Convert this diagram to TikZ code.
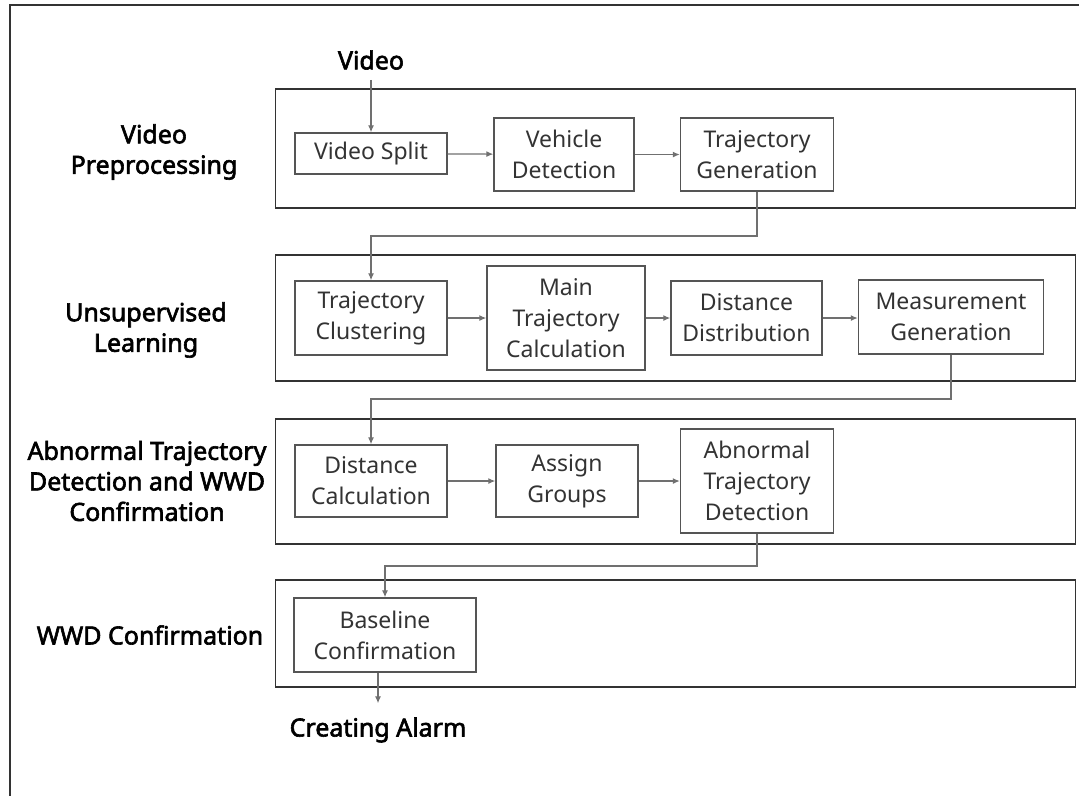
\documentclass[tikz,border=0pt]{standalone}
\usepackage{fontspec}
\setmainfont{Noto Sans}
\newfontfamily\labfont{Noto Sans}[FakeBold=2.4]
\usetikzlibrary{arrows.meta}
\definecolor{boxline}{HTML}{555555}
\definecolor{secline}{HTML}{333333}
\definecolor{conn}{HTML}{707070}
\definecolor{txt}{HTML}{333333}
\tikzset{
  stepbox/.style={draw=boxline, line width=1.4pt, inner sep=0pt, align=center,
    text=txt, font=\fontsize{23}{31}\selectfont},
  secbox/.style={draw=secline, line width=1.8pt},
  lab/.style={align=center, font=\labfont\fontsize{25}{30.5}\selectfont, text=black},
  conline/.style={draw=conn, line width=1.2pt, -{Latex[length=7pt,width=6pt]}},
}
\begin{document}
\begin{tikzpicture}[x=1pt,y=-1pt]
\useasboundingbox (0,0) rectangle (1079,796);
% outer frame (top and left)
\draw[secline, line width=2pt] (1079,5) -- (10,5) -- (10,796);
% section boxes
\draw[secbox] (275.5,89) rectangle (1075.5,208);
\draw[secbox] (275.5,255) rectangle (1075.5,381);
\draw[secbox] (275.5,419) rectangle (1075.5,544);
\draw[secbox] (275.5,580) rectangle (1075.5,687);
% section labels
\node[lab] (l1) at (154,152) {Video\\Preprocessing};
\node[lab] (l2) at (146,330) {Unsupervised\\Learning};
\node[lab] (l3) at (147,481) {Abnormal Trajectory\\Detection and WWD\\Confirmation};
\node[lab] (l4) at (150,635) {WWD Confirmation};
% input / output
\node[lab, inner sep=0pt] (video) at (371,60) {Video};
\node[lab, inner sep=0pt] (alarm) at (378,730) {Creating Alarm};
% step boxes
\node[stepbox, minimum width=152pt, minimum height=41pt] (vs) at (371,153.5) {Video Split};
\node[stepbox, minimum width=140pt, minimum height=73pt] (vd) at (564,154.5) {Vehicle\\Detection};
\node[stepbox, minimum width=153pt, minimum height=73pt] (tg) at (757,154.5) {Trajectory\\Generation};
\node[stepbox, minimum width=152pt, minimum height=74pt] (tc) at (371,318) {Trajectory\\Clustering};
\node[stepbox, minimum width=158pt, minimum height=104pt] (mtc) at (566,318) {Main\\Trajectory\\Calculation};
\node[stepbox, minimum width=151pt, minimum height=74pt] (dd) at (746.5,318) {Distance\\Distribution};
\node[stepbox, minimum width=185pt, minimum height=74pt] (mg) at (951,317) {Measurement\\Generation};
\node[stepbox, minimum width=152pt, minimum height=72pt] (dc) at (371,481) {Distance\\Calculation};
\node[stepbox, minimum width=142pt, minimum height=72pt] (ag) at (567,481) {Assign\\Groups};
\node[stepbox, minimum width=153pt, minimum height=104pt] (atd) at (757,481) {Abnormal\\Trajectory\\Detection};
\node[stepbox, minimum width=182pt, minimum height=74pt] (bc) at (385,635) {Baseline\\Confirmation};
% bend points
\coordinate (c1) at (757,236);
\coordinate (c2) at (951,399);
\coordinate (c3) at (757,566);
% connectors
\draw[conline] ([yshift=-10pt]video.south) -- (vs.north);
\draw[conline] (vs) -- (vd);
\draw[conline] (vd) -- (tg);
\draw[conline] (tg.south) -- (c1) -- (c1 -| tc.north) -- (tc.north);
\draw[conline] (tc) -- (mtc);
\draw[conline] (mtc) -- (dd);
\draw[conline] (dd.east) -- (dd.east -| mg.west);
\draw[conline] (mg.south) -- (c2) -- (c2 -| dc.north) -- (dc.north);
\draw[conline] (dc) -- (ag);
\draw[conline] (ag) -- (atd);
\draw[conline] (atd.south) -- (c3) -- (c3 -| bc.north) -- (bc.north);
\draw[conline] (bc.south -| alarm.north) -- ([yshift=14pt]alarm.north);
\end{tikzpicture}
\end{document}
